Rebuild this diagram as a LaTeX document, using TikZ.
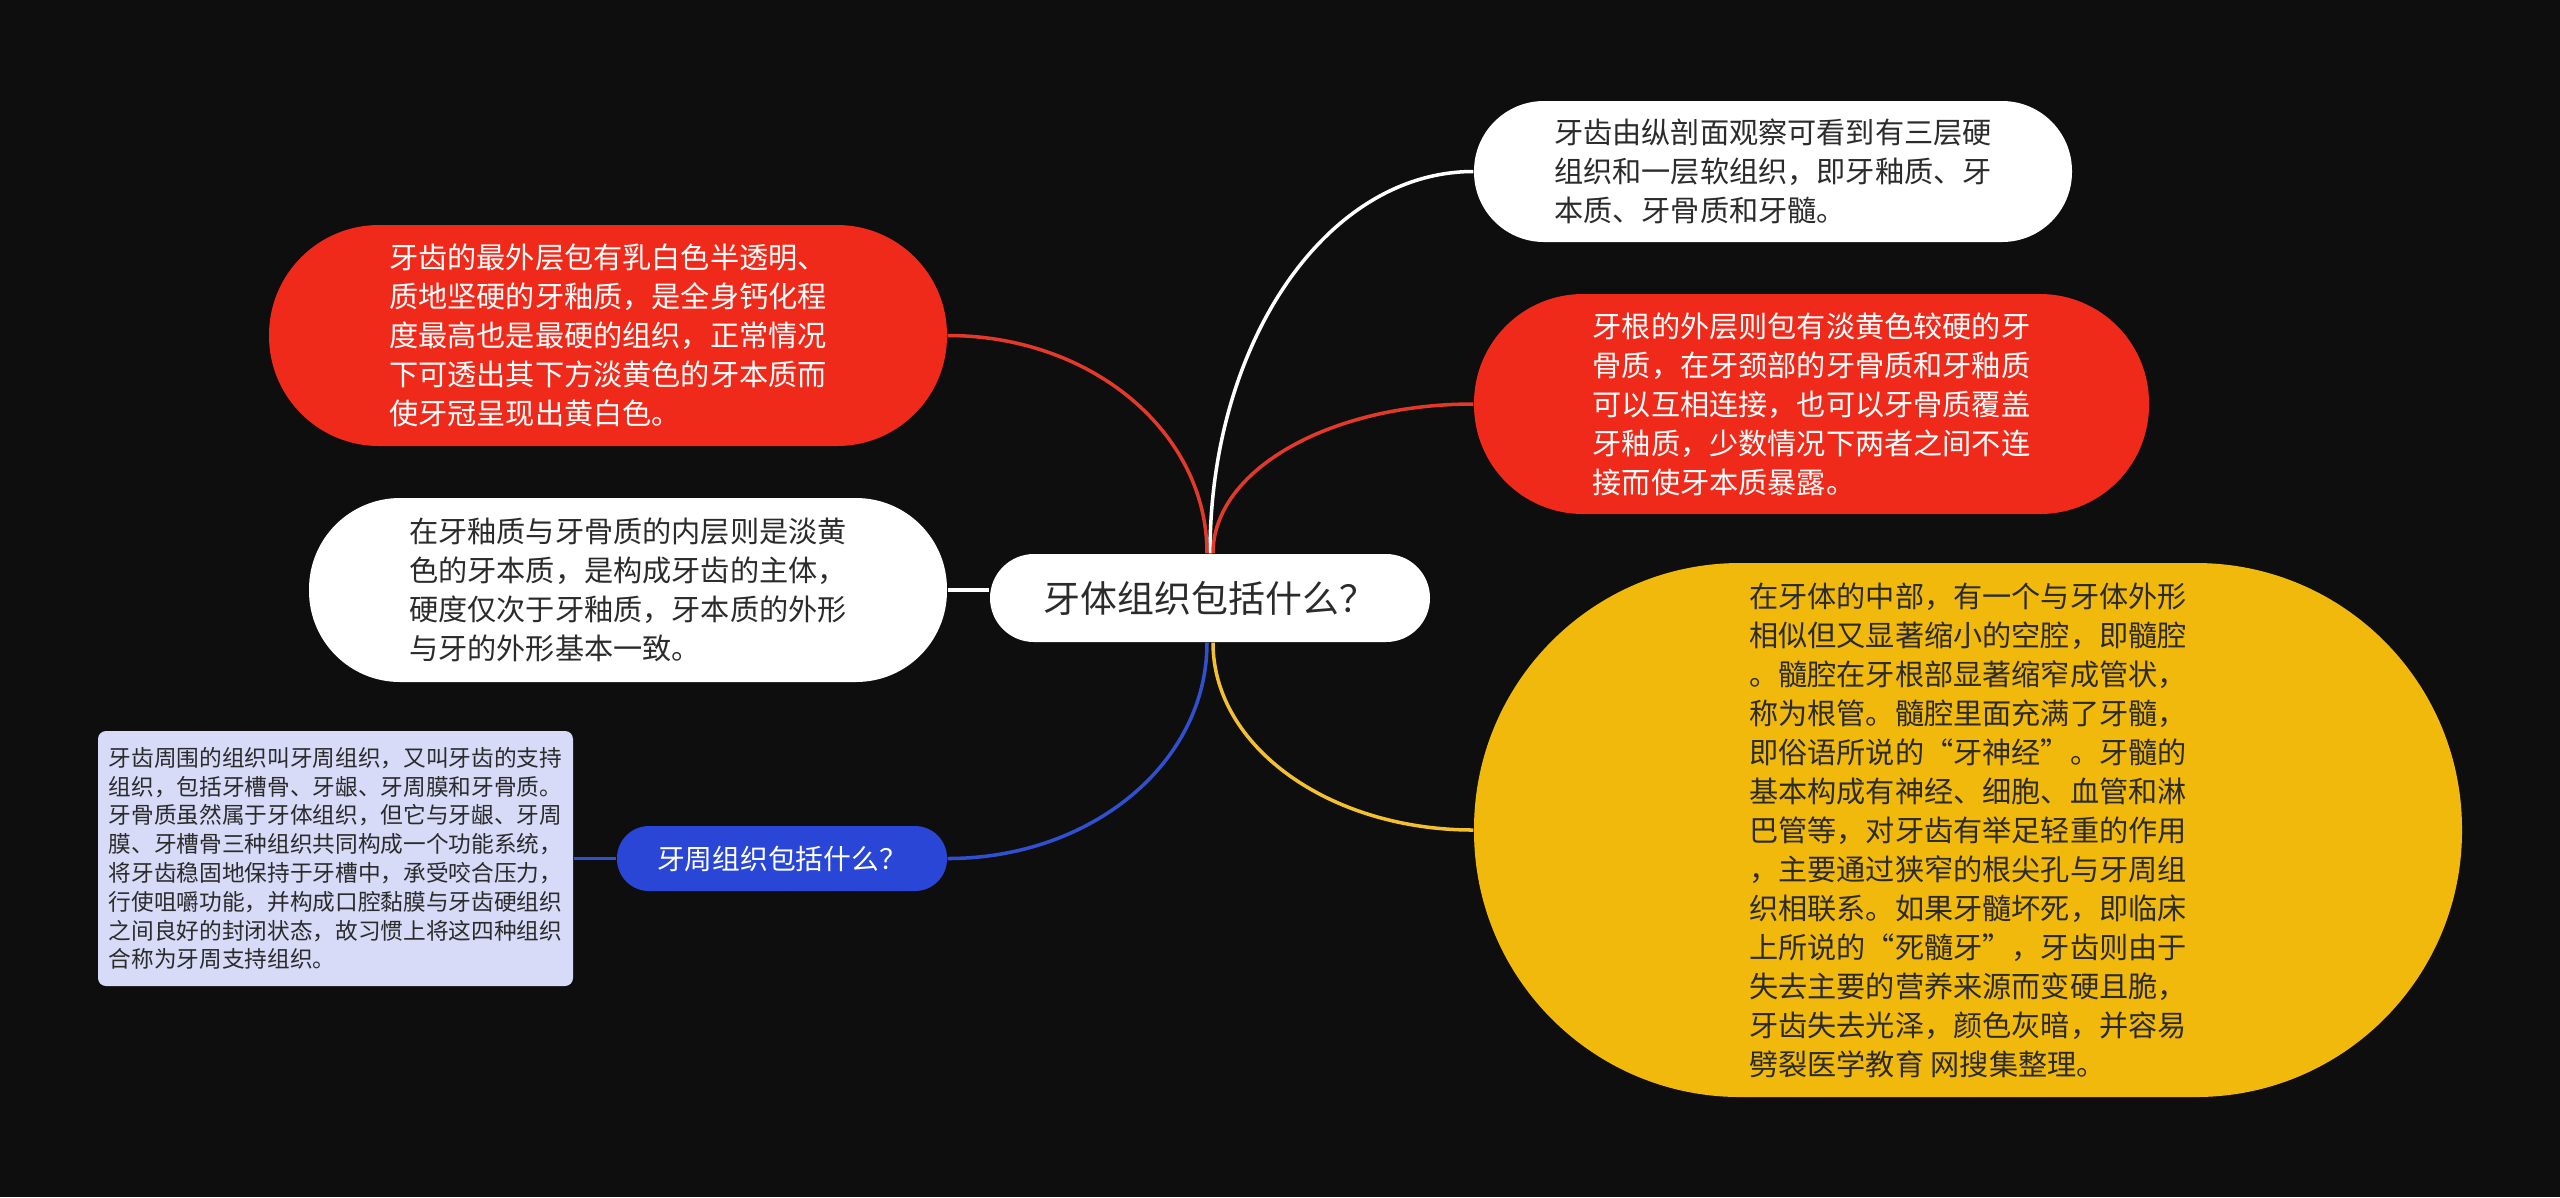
\documentclass[tikz,border=0pt]{standalone}
\usepackage{fontspec}
\newfontfamily\cjk{Noto Sans CJK SC}
\definecolor{bgcol}{HTML}{0E0E0E}
\definecolor{redfill}{HTML}{F02A1A}
\definecolor{redline}{HTML}{E2392B}
\definecolor{yelfill}{HTML}{F1B90C}
\definecolor{yelline}{HTML}{F3C030}
\definecolor{bluefill}{HTML}{2946D6}
\definecolor{blueline}{HTML}{3050D0}
\definecolor{lavfill}{HTML}{D7DBF7}
\definecolor{txtdark}{HTML}{2B2B2B}
\begin{document}
\begin{tikzpicture}[every node/.style={font=\cjk\fontsize{8.3pt}{11.1pt}\selectfont},
  bubble/.style={inner sep=0pt, align=left, text=txtdark},
  wbox/.style={bubble, fill=white},
  rbox/.style={bubble, fill=redfill, text=white},
  link/.style={line width=1pt}]
  \fill[bgcol] (0,0) rectangle (25.6,-11.97);
  \useasboundingbox (0,0) rectangle (25.6,-11.97);
  \node[wbox, minimum width=4.4cm, minimum height=0.88cm, rounded corners=0.44cm,
    font=\cjk\fontsize{10.5pt}{12pt}\selectfont] (root) at (12.10,-5.98) {牙体组织包括什么？};
  % right side
  \node[wbox, minimum width=5.98cm, minimum height=1.41cm, rounded corners=0.7cm] (layers) at (17.73,-1.715)
    {牙齿由纵剖面观察可看到有三层硬\\组织和一层软组织，即牙釉质、牙\\本质、牙骨质和牙髓。};
  \node[rbox, minimum width=6.75cm, minimum height=2.2cm, rounded corners=1.09cm] (cement) at (18.115,-4.04)
    {牙根的外层则包有淡黄色较硬的牙\\骨质，在牙颈部的牙骨质和牙釉质\\可以互相连接，也可以牙骨质覆盖\\牙釉质，少数情况下两者之间不连\\接而使牙本质暴露。};
  \node[bubble, fill=yelfill, minimum width=9.88cm, minimum height=5.34cm, rounded corners=2.66cm] (pulp) at (19.68,-8.30)
    {在牙体的中部，有一个与牙体外形\\相似但又显著缩小的空腔，即髓腔\\。髓腔在牙根部显著缩窄成管状，\\称为根管。髓腔里面充满了牙髓，\\即俗语所说的“牙神经”。牙髓的\\基本构成有神经、细胞、血管和淋\\巴管等，对牙齿有举足轻重的作用\\，主要通过狭窄的根尖孔与牙周组\\织相联系。如果牙髓坏死，即临床\\上所说的“死髓牙”，牙齿则由于\\失去主要的营养来源而变硬且脆，\\牙齿失去光泽，颜色灰暗，并容易\\劈裂医学教育 网搜集整理。};
  % left side
  \node[rbox, minimum width=6.78cm, minimum height=2.21cm, rounded corners=1.1cm] (enamel) at (6.08,-3.355)
    {牙齿的最外层包有乳白色半透明、\\质地坚硬的牙釉质，是全身钙化程\\度最高也是最硬的组织，正常情况\\下可透出其下方淡黄色的牙本质而\\使牙冠呈现出黄白色。};
  \node[wbox, minimum width=6.38cm, minimum height=1.84cm, rounded corners=0.91cm] (dentin) at (6.28,-5.90)
    {在牙釉质与牙骨质的内层则是淡黄\\色的牙本质，是构成牙齿的主体，\\硬度仅次于牙釉质，牙本质的外形\\与牙的外形基本一致。};
  \node[bubble, fill=bluefill, text=white, minimum width=3.3cm, minimum height=0.65cm, rounded corners=0.32cm,
    font=\cjk\fontsize{7.9pt}{9pt}\selectfont] (perio) at (7.82,-8.585) {牙周组织包括什么？};
  \node[bubble, fill=lavfill, minimum width=4.75cm, minimum height=2.55cm, rounded corners=0.08cm,
    font=\cjk\fontsize{6.45pt}{8.2pt}\selectfont] (periotxt) at (3.355,-8.585)
    {牙齿周围的组织叫牙周组织，又叫牙齿的支持\\组织，包括牙槽骨、牙龈、牙周膜和牙骨质。\\牙骨质虽然属于牙体组织，但它与牙龈、牙周\\膜、牙槽骨三种组织共同构成一个功能系统，\\将牙齿稳固地保持于牙槽中，承受咬合压力，\\行使咀嚼功能，并构成口腔黏膜与牙齿硬组织\\之间良好的封闭状态，故习惯上将这四种组织\\合称为牙周支持组织。};
  % branches
  \draw[link, white] (root.north) .. controls +(0,2.12) and +(-1.46,0) .. (layers.west);
  \draw[link, redline] ([xshift=0.03cm]root.north) .. controls +(0,0.83) and +(-1.44,0) .. (cement.west);
  \draw[link, yelline] ([xshift=0.03cm]root.south) .. controls +(0,-1.04) and +(-1.44,0) .. (pulp.west);
  \draw[link, redline] ([xshift=-0.03cm]root.north) .. controls +(0,1.21) and +(1.44,0) .. (enamel.east);
  \draw[link, white] (dentin.east) -- (dentin.east -| root.west);
  \draw[link, blueline] ([xshift=-0.03cm]root.south) .. controls +(0,-1.2) and +(1.44,0) .. (perio.east);
  \draw[link, blueline] (perio.west) -- (periotxt.east);
\end{tikzpicture}
\end{document}
